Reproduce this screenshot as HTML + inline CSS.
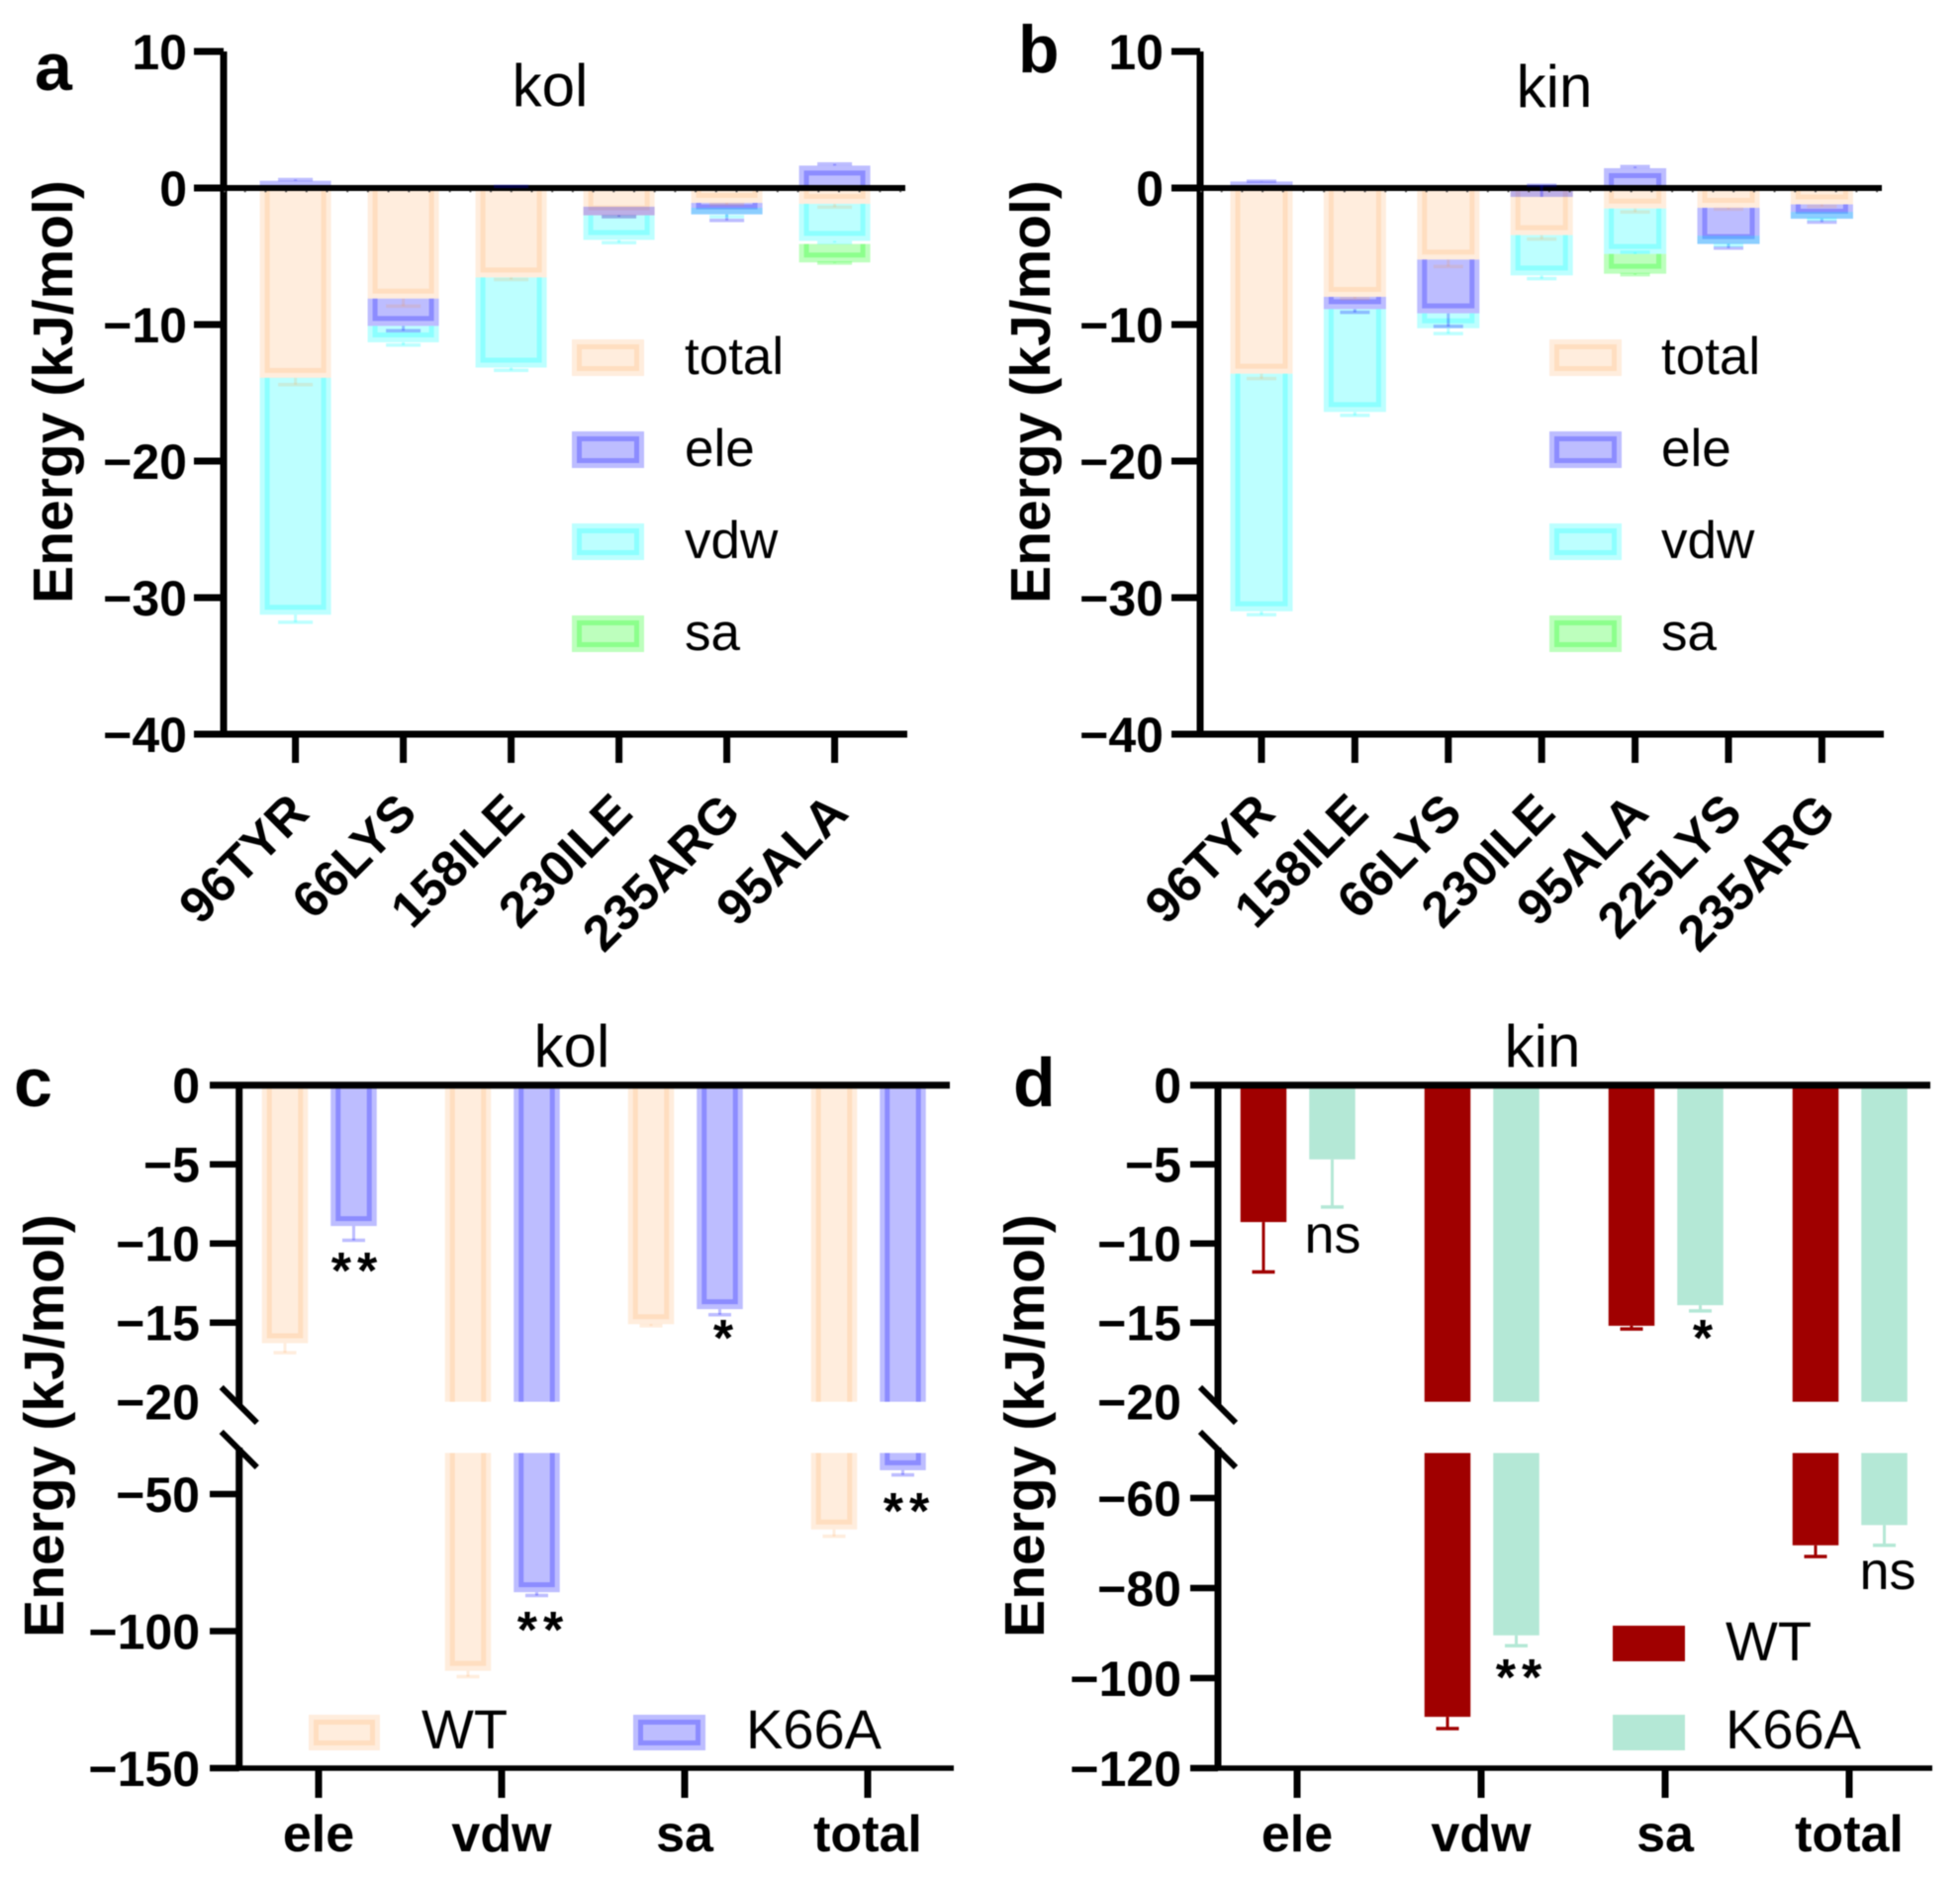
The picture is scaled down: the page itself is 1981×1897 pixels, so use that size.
<!DOCTYPE html>
<html lang="en">
<head>
<meta charset="utf-8">
<title>Energy decomposition chart</title>
<style>
html,body{margin:0;padding:0;background:#fff;}
svg{display:block;filter:blur(0.5px);}
text{font-family:"Liberation Sans",Arial,sans-serif;fill:#000;}
</style>
</head>
<body>
<svg id="figure" xmlns="http://www.w3.org/2000/svg" width="1981" height="1897" viewBox="0 0 1981 1897">
  <rect x="0" y="0" width="1981" height="1897" fill="#fff"/>
  <g id="layer-bars"></g>
  <g id="layer-axes"></g>
  <g id="layer-errors"></g>

  <text x="35" y="91" font-size="68" font-weight="700">a</text>
  <text x="1029" y="73" font-size="68" font-weight="700">b</text>
  <text x="14" y="1118" font-size="70" font-weight="700">c</text>
  <text x="1024" y="1118" font-size="70" font-weight="700">d</text>

  <text x="556" y="107" font-size="60" text-anchor="middle">kol</text>
  <text x="1571" y="108" font-size="60" text-anchor="middle">kin</text>
  <text x="578" y="1078" font-size="60" text-anchor="middle">kol</text>
  <text x="1559" y="1078" font-size="60" text-anchor="middle">kin</text>

  <text transform="translate(73 396) rotate(-90)" font-size="57" font-weight="700" text-anchor="middle">Energy (kJ/mol)</text>
  <text transform="translate(1061 396) rotate(-90)" font-size="57" font-weight="700" text-anchor="middle">Energy (kJ/mol)</text>
  <text transform="translate(64 1441) rotate(-90)" font-size="57" font-weight="700" text-anchor="middle">Energy (kJ/mol)</text>
  <text transform="translate(1055 1441) rotate(-90)" font-size="57" font-weight="700" text-anchor="middle">Energy (kJ/mol)</text>

  <g id="layer-legends"></g>

  <text x="361" y="1302" font-size="52" font-weight="700" letter-spacing="6" text-anchor="middle">**</text>
  <text x="731" y="1370" font-size="52" font-weight="700" text-anchor="middle">*</text>
  <text x="549" y="1665" font-size="52" font-weight="700" letter-spacing="6" text-anchor="middle">**</text>
  <text x="919" y="1545" font-size="52" font-weight="700" letter-spacing="6" text-anchor="middle">**</text>
  <text x="1347" y="1266" font-size="54" text-anchor="middle">ns</text>
  <text x="1721" y="1370" font-size="52" font-weight="700" text-anchor="middle">*</text>
  <text x="1538" y="1713" font-size="52" font-weight="700" letter-spacing="6" text-anchor="middle">**</text>
  <text x="1908" y="1606" font-size="54" text-anchor="middle">ns</text>
</svg>
<script>
// ---------- panel a (kol) ----------
const aCategories = ['96TYR','66LYS','158ILE','230ILE','235ARG','95ALA'];
const aTotalEnd = [-13.9,-8.1,-6.55,-2.0,-1.09,-1.16];
const aTotalCap = [-14.4,-8.65,-6.7,-2.1,-1.2,-1.4];
const aEleStart = [0,-8.1,0,-1.37,-1.09,0];
const aEleEnd   = [0.53,-10.1,0.1,-2.0,-1.93,1.64];
const aEleCap   = [0.62,-10.45,0.12,-2.1,-2.37,1.76];
const aVdwStart = [-13.9,-10.1,-6.55,-2.0,-1.45,-1.16];
const aVdwEnd   = [-31.25,-11.3,-13.15,-3.8,-1.93,-3.87];
const aVdwCap   = [-31.8,-11.5,-13.35,-4.0,-2.1,-4.0];
const aSaStart  = [0,0,0,0,0,-4.1];
const aSaEnd    = [0,0,0,0,0,-5.45];
const aSaCap    = [0,0,0,0,0,-5.5];

// ---------- panel b (kin) ----------
const bCategories = ['96TYR','158ILE','66LYS','230ILE','95ALA','225LYS','235ARG'];
const bTotalEnd = [-13.6,-7.97,-5.24,-3.45,-1.5,-1.45,-1.2];
const bTotalCap = [-13.96,-8.1,-5.75,-3.74,-1.76,-1.55,-1.35];
const bEleStart = [0,-7.97,-5.24,0,0,-1.45,-1.2];
const bEleEnd   = [0.48,-8.87,-9.18,-0.65,1.45,-4.1,-2.25];
const bEleCap   = [0.5,-9.1,-10.14,0.2,1.57,-4.4,-2.5];
const bVdwStart = [-13.6,-8.87,-9.18,-3.45,-1.5,-3.5,-1.75];
const bVdwEnd   = [-31,-16.4,-10.27,-6.4,-4.83,-4.1,-2.25];
const bVdwCap   = [-31.25,-16.65,-10.66,-6.64,-4.7,-4.2,-2.3];
const bSaStart  = [0,0,0,0,-4.83,0,0];
const bSaEnd    = [0,0,0,0,-6.28,0,0];
const bSaCap    = [0,0,0,0,-6.35,0,0];

const stackTicks = [10,0,-10,-20,-30,-40];

// ---------- panel c (kol, WT vs K66A) ----------
const groupCategories = ['ele','vdw','sa','total'];
const cWT     = [-16.3,-114.5,-15.1,-62.9];
const cWTCap  = [-16.9,-116.6,-15.2,-65.4];
const cK66A   = [-8.9,-85.8,-14.15,-41.3];
const cK66ACap= [-9.8,-87,-14.5,-43];
const cUpperTicks = [0,-5,-10,-15,-20];
const cLowerTicks = [-50,-100,-150];

// ---------- panel d (kin, WT vs K66A) ----------
const dWT     = [-8.65,-108.6,-15.2,-70.5];
const dWTCap  = [-11.8,-111.2,-15.4,-73];
const dK66A   = [-4.69,-90.5,-13.9,-66];
const dK66ACap= [-7.7,-92.8,-14.26,-70.5];
const dUpperTicks = [0,-5,-10,-15,-20];
const dLowerTicks = [-60,-80,-100,-120];

const NS = 'http://www.w3.org/2000/svg';
const layerBars = document.getElementById('layer-bars');
const layerAxes = document.getElementById('layer-axes');
const layerErrors = document.getElementById('layer-errors');
const layerLegends = document.getElementById('layer-legends');

function make(tag, attrs, parent) {
  const el = document.createElementNS(NS, tag);
  for (const k in attrs) el.setAttribute(k, attrs[k]);
  parent.appendChild(el);
  return el;
}
function fmt(v) { return String(v).replace('-', '\u2212'); }

const ORANGE = {c:'#ff8c2a', a:0.16};
const BLUE   = {c:'#0000ff', a:0.26};
const CYAN   = {c:'#00ffff', a:0.26};
const GREEN  = {c:'#00ff00', a:0.26};

// Outer translucent block plus a 5px inner band (open on the start side)
function blockPiece(xc, w, y1, y2, style, closed, parent, prefix) {
  const x = xc - w / 2;
  const top = Math.min(y1, y2), h = Math.abs(y2 - y1);
  const r = make('rect', {x:x, y:top, width:w, height:h, fill:style.c, 'fill-opacity':style.a}, parent);
  
  
  if (h < 10) return;
  const dir = y2 >= y1 ? 1 : -1;
  const ye = y2 - dir * 7.5;
  const lx = x + 7.5, rx = x + w - 7.5;
  const d = closed
    ? 'M' + lx + ' ' + y1 + 'L' + lx + ' ' + ye + 'L' + rx + ' ' + ye + 'L' + rx + ' ' + y1
    : 'M' + lx + ' ' + y1 + 'L' + lx + ' ' + y2 + 'M' + rx + ' ' + y1 + 'L' + rx + ' ' + y2;
  const p = make('path', {d:d, fill:'none', stroke:style.c, 'stroke-opacity':style.a, 'stroke-width':5}, parent);
  
  
}

function errorBar(xc, yEnd, yCap, half, stroke, opacity, prefix) {
  const s = make('line', {x1:xc, x2:xc, y1:yEnd, y2:yCap, stroke:stroke, 'stroke-opacity':opacity, 'stroke-width':3}, layerErrors);
  
  
  const c = make('line', {x1:xc - half, x2:xc + half, y1:yCap, y2:yCap, stroke:stroke, 'stroke-opacity':opacity, 'stroke-width':3.5}, layerErrors);
  
  
}

function drawSeries(geo, name, style, starts, ends, caps) {
  ends.forEach(function (v, i) {
    if (v === starts[i]) return;
    const xc = geo.x0 + geo.dx * i;
    blockPiece(xc, geo.w, geo.y(starts[i]), geo.y(v), style, true, layerBars, name);
    errorBar(xc, geo.y(v), geo.y(caps[i]), geo.capHalf, style.c, style.a, name);
  });
}

function axisLine(x1, y1, x2, y2, w, name) {
  const l = make('line', {x1:x1, y1:y1, x2:x2, y2:y2, stroke:'#000', 'stroke-width':w}, layerAxes);
  
  
}

function tickLabel(x, y, str, name) {
  const t = make('text', {x:x, y:y, 'font-size':50, 'font-weight':700, 'text-anchor':'end'}, layerAxes);
  t.textContent = str;
  
  
}

function catLabel(x, y, str, rotate, size) {
  const t = make('text', {x:x, y:y, 'font-size':size, 'font-weight':700, 'text-anchor': rotate ? 'end' : 'middle'}, layerAxes);
  if (rotate) t.setAttribute('transform', 'rotate(-45 ' + x + ' ' + y + ')');
  t.textContent = str;
  
  
}

function drawStackPanel(geo, cats) {
  axisLine(geo.axisX, geo.y(10), geo.axisX, geo.y(-40) + 3.5, 7, 'y-axis');
  axisLine(geo.tickL, geo.y(-40), geo.xEnd, geo.y(-40), 7, 'x-axis');
  axisLine(geo.tickL, geo.y(0), geo.xEnd - 2, geo.y(0), 6, 'zero-line');
  const dots = make('line', {x1:geo.axisX, x2:geo.xEnd - 2, y1:geo.y(0) + 3.6, y2:geo.y(0) + 3.6, stroke:'#555', 'stroke-width':1.4, 'stroke-dasharray':'2 ' + (geo.dotGap - 2)}, layerAxes);
  
  
  stackTicks.forEach(function (v) {
    axisLine(geo.tickL, geo.y(v), geo.axisX, geo.y(v), 7, 'y-tick');
    tickLabel(geo.labelR, geo.y(v) + 18, fmt(v), 'y-tick-label');
  });
  cats.forEach(function (c, i) {
    const x = geo.x0 + geo.dx * i;
    axisLine(x, geo.y(-40), x, 771, 7, 'x-tick');
    catLabel(x + 16, 824, c, true, 51);
  });
}

const geoA = {x0:298.6, dx:109, w:72, capHalf:17.5, axisX:226, tickL:196, xEnd:917, labelR:189, dotGap:20.7,
  y:function (v) { return 190 - 13.8 * v; }};
const geoB = {x0:1275, dx:94.4, w:63, capHalf:15, axisX:1213, tickL:1184, xEnd:1904, labelR:1176, dotGap:20.7,
  y:function (v) { return 190 - 13.8 * v; }};

drawSeries(geoA, 'total', ORANGE, aTotalEnd.map(function () { return 0; }), aTotalEnd, aTotalCap);
drawSeries(geoA, 'ele', BLUE, aEleStart, aEleEnd, aEleCap);
drawSeries(geoA, 'vdw', CYAN, aVdwStart, aVdwEnd, aVdwCap);
drawSeries(geoA, 'sa', GREEN, aSaStart, aSaEnd, aSaCap);
drawStackPanel(geoA, aCategories);

drawSeries(geoB, 'total', ORANGE, bTotalEnd.map(function () { return 0; }), bTotalEnd, bTotalCap);
drawSeries(geoB, 'ele', BLUE, bEleStart, bEleEnd, bEleCap);
drawSeries(geoB, 'vdw', CYAN, bVdwStart, bVdwEnd, bVdwCap);
drawSeries(geoB, 'sa', GREEN, bSaStart, bSaEnd, bSaCap);
drawStackPanel(geoB, bCategories);

// ---------- broken-axis panels ----------
const BREAK_UPPER = -20;

function drawGroupSeries(geo, name, offset, values, caps, paint) {
  values.forEach(function (v, i) {
    const xc = geo.tick0 + geo.tickDx * i + offset;
    if (v >= BREAK_UPPER) {
      paint(xc, geo.y(0), geo.y(v), true, name);
    } else {
      paint(xc, geo.y(0), geo.y(BREAK_UPPER), false, name);
      paint(xc, geo.y(geo.breakLower), geo.y(v), true, name);
    }
    errorBar(xc, geo.y(v), geo.y(caps[i]), 11.5, geo[name + 'Err'], geo[name + 'ErrA'], name);
  });
}

function translucentPaint(style) {
  return function (xc, y1, y2, closed, name) {
    blockPiece(xc, 46.5, y1, y2, style, closed, layerBars, name);
  };
}
function solidPaint(color) {
  return function (xc, y1, y2, closed, name) {
    const r = make('rect', {x:xc - 23.25, y:y1, width:46.5, height:y2 - y1, fill:color}, layerBars);
    
    
  };
}

function drawBrokenAxes(geo, upper, lower) {
  axisLine(geo.axisX, geo.y(0), geo.axisX, 1420, 7, 'y-axis-upper');
  axisLine(geo.axisX, 1463, geo.axisX, geo.bottomY, 7, 'y-axis-lower');
  axisLine(geo.tickL, geo.y(0), geo.xEndTop, geo.y(0), 7, 'top-axis-line');
  axisLine(geo.tickL, geo.bottomY, geo.xEndBottom, geo.bottomY, 5.5, 'x-axis');
  axisLine(geo.axisX - 18, 1402, geo.axisX + 18, 1438, 6, 'axis-break-upper');
  axisLine(geo.axisX - 18, 1447, geo.axisX + 18, 1483, 6, 'axis-break-lower');
  upper.forEach(function (v) {
    if (v !== BREAK_UPPER) axisLine(geo.tickL, geo.y(v), geo.axisX, geo.y(v), 6.5, 'y-tick');
    tickLabel(geo.labelR, geo.y(v) + 18, fmt(v), 'y-tick-label');
  });
  lower.forEach(function (v) {
    axisLine(geo.tickL, geo.y(v), geo.axisX, geo.y(v), 6.5, 'y-tick');
    tickLabel(geo.labelR, geo.y(v) + 18, fmt(v), 'y-tick-label');
  });
  groupCategories.forEach(function (c, i) {
    const x = geo.tick0 + geo.tickDx * i;
    axisLine(x, geo.bottomY, x, 1817, 7, 'x-tick');
    catLabel(x, 1871, c, false, 52);
  });
}

const geoC = {tick0:322, tickDx:185, axisX:241.7, tickL:212, xEndTop:960, xEndBottom:964, labelR:202, bottomY:1787, breakLower:-35,
  wtErr:ORANGE.c, wtErrA:ORANGE.a, k66aErr:BLUE.c, k66aErrA:BLUE.a,
  y:function (v) { return v >= BREAK_UPPER ? 1096.7 - 16 * v : 1787 - (v + 150) * 2.77; }};
const geoD = {tick0:1311, tickDx:186, axisX:1231, tickL:1203, xEndTop:1951, xEndBottom:1953, labelR:1194, bottomY:1787, breakLower:-50,
  wtErr:'#a00000', wtErrA:1, k66aErr:'#b4e8d6', k66aErrA:1,
  y:function (v) { return v >= BREAK_UPPER ? 1096.7 - 16 * v : 1787 - (v + 120) * 4.55; }};

drawGroupSeries(geoC, 'wt', -34, cWT, cWTCap, translucentPaint(ORANGE));
drawGroupSeries(geoC, 'k66a', 35.5, cK66A, cK66ACap, translucentPaint(BLUE));
drawBrokenAxes(geoC, cUpperTicks, cLowerTicks);

drawGroupSeries(geoD, 'wt', -34, dWT, dWTCap, solidPaint('#a00000'));
drawGroupSeries(geoD, 'k66a', 35.5, dK66A, dK66ACap, solidPaint('#b4e8d6'));
drawBrokenAxes(geoD, dUpperTicks, dLowerTicks);

// ---------- legends ----------
function legendSwatch(x, y, w, h, style) {
  const r = make('rect', {x:x, y:y, width:w, height:h, fill:style.c, 'fill-opacity':style.a}, layerLegends);
  
  
  const b = make('rect', {x:x + 7.5, y:y + 7.5, width:w - 15, height:h - 15, fill:'none', stroke:style.c, 'stroke-opacity':style.a, 'stroke-width':5}, layerLegends);
  
  
}
function legendText(x, y, str, size) {
  const t = make('text', {x:x, y:y, 'font-size':size}, layerLegends);
  t.textContent = str;
  
  
}
function solidSwatch(x, y, w, h, color) {
  const r = make('rect', {x:x, y:y, width:w, height:h, fill:color}, layerLegends);
  
  
}

const stackLegendLabels = ['total','ele','vdw','sa'];
const stackLegendStyles = [ORANGE, BLUE, CYAN, GREEN];
[[578,692],[1566,1679]].forEach(function (pos) {
  [343,436,529,622].forEach(function (top, i) {
    legendSwatch(pos[0], top, 73, 37, stackLegendStyles[i]);
    legendText(pos[1], top + 35, stackLegendLabels[i], 53);
  });
});
legendSwatch(312, 1733, 72, 36, ORANGE);
legendText(426, 1767, 'WT', 56);
legendSwatch(640, 1733, 73, 36, BLUE);
legendText(754, 1767, 'K66A', 56);
solidSwatch(1630, 1643, 73, 36, '#a00000');
legendText(1744, 1678, 'WT', 56);
solidSwatch(1630, 1733, 73, 36, '#b4e8d6');
legendText(1744, 1767, 'K66A', 56);
</script>
</body>
</html>
